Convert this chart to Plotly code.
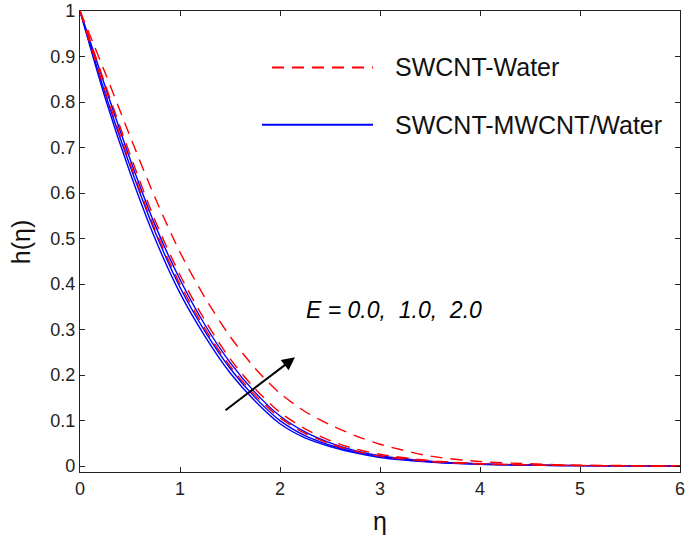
import plotly.graph_objects as go

eta = [0, 0.25, 0.5, 0.75, 1, 1.25, 1.5, 1.75, 2, 2.25, 2.5, 2.75, 3, 3.5, 4, 4.5, 5, 5.5, 6]

# SWCNT-MWCNT/Water (blue, solid) for E = 0.0, 1.0, 2.0
blue_E0 = [1, 0.81, 0.645, 0.50, 0.38, 0.285, 0.205, 0.143, 0.093, 0.062, 0.043, 0.029, 0.019, 0.009, 0.004, 0.002, 0.001, 0.0005, 0]
blue_E1 = [1, 0.82, 0.66, 0.515, 0.393, 0.296, 0.215, 0.151, 0.100, 0.067, 0.046, 0.031, 0.021, 0.0095, 0.0043, 0.002, 0.001, 0.0005, 0]
blue_E2 = [1, 0.835, 0.675, 0.53, 0.41, 0.31, 0.228, 0.162, 0.110, 0.075, 0.051, 0.034, 0.023, 0.011, 0.005, 0.0023, 0.0011, 0.0005, 0]

# SWCNT-Water (red, dashed) for E = 0.0, 1.0, 2.0
red_E0 = [1, 0.825, 0.665, 0.52, 0.40, 0.302, 0.22, 0.156, 0.106, 0.072, 0.049, 0.033, 0.022, 0.01, 0.0047, 0.0022, 0.001, 0.0005, 0]
red_E1 = [1, 0.84, 0.685, 0.54, 0.42, 0.32, 0.236, 0.170, 0.118, 0.082, 0.056, 0.038, 0.026, 0.012, 0.0055, 0.0025, 0.0012, 0.0005, 0]
red_E2 = [1, 0.865, 0.725, 0.59, 0.47, 0.37, 0.285, 0.215, 0.16, 0.12, 0.091, 0.067, 0.048, 0.022, 0.010, 0.005, 0.002, 0.001, 0]

x_ticks = [0, 1, 2, 3, 4, 5, 6]
y_ticks = [0, 0.1, 0.2, 0.3, 0.4, 0.5, 0.6, 0.7, 0.8, 0.9, 1]
y_tick_text = ["0", "0.1", "0.2", "0.3", "0.4", "0.5", "0.6", "0.7", "0.8", "0.9", "1"]

legend_labels = ["SWCNT-Water", "SWCNT-MWCNT/Water"]
annot_text = "E = 0.0,\u00a0 1.0,\u00a0 2.0"

FONT = "Arial, Liberation Sans, sans-serif"
RED = "#ff0000"
BLUE = "#0000ff"
DASH = "12px,8px"

fig = go.Figure()
for ys in (blue_E0, blue_E1, blue_E2):
    fig.add_trace(go.Scatter(x=eta, y=ys, mode="lines", showlegend=False,
                             line=dict(color=BLUE, width=1.4, shape="spline", smoothing=0.8)))
for ys in (red_E0, red_E1, red_E2):
    fig.add_trace(go.Scatter(x=eta, y=ys, mode="lines", showlegend=False,
                             line=dict(color=RED, width=1.4, dash=DASH, shape="spline", smoothing=0.8)))

# manual legend
fig.add_shape(type="line", x0=1.92, x1=2.93, y0=0.876, y1=0.876, xref="x", yref="y",
              line=dict(color=RED, width=2, dash=DASH))
fig.add_shape(type="line", x0=1.82, x1=2.93, y0=0.75, y1=0.75, xref="x", yref="y",
              line=dict(color=BLUE, width=2.2))
fig.add_annotation(x=3.13, y=0.876, text=legend_labels[0], showarrow=False, xanchor="left",
                   yanchor="middle", font=dict(family=FONT, size=25, color="#111"))
fig.add_annotation(x=3.13, y=0.75, text=legend_labels[1], showarrow=False, xanchor="left",
                   yanchor="middle", font=dict(family=FONT, size=25, color="#111"))

# arrow and E label
fig.add_annotation(x=2.15, y=0.239, ax=1.44, ay=0.12, xref="x", yref="y", axref="x", ayref="y",
                   text="", showarrow=True, arrowhead=2, arrowsize=1.3, arrowwidth=2, arrowcolor="black")
fig.add_annotation(x=2.24, y=0.344, text="<i>" + annot_text + "</i>", showarrow=False, xanchor="left",
                   yanchor="middle", font=dict(family=FONT, size=23, color="black"))

# axis titles
fig.add_annotation(x=-0.097, y=0.498, xref="paper", yref="paper", text="h(\u03b7)", textangle=-90,
                   xanchor="center", yanchor="middle",
                   showarrow=False, font=dict(family=FONT, size=25, color="#111"))
fig.add_annotation(x=0.5, y=-0.107, xref="paper", yref="paper", text="\u03b7",
                   xanchor="center", yanchor="middle",
                   showarrow=False, font=dict(family=FONT, size=25, color="#111"))

axis_common = dict(showline=True, linecolor="#222", linewidth=1.3, mirror="ticks", ticks="inside",
                   ticklen=5, tickcolor="#222", showgrid=False, zeroline=False,
                   ticklabeloverflow="allow",
                   tickfont=dict(family=FONT, size=18, color="#222"))
fig.update_xaxes(range=[0, 6], tickvals=x_ticks, **axis_common)
fig.update_yaxes(range=[-0.013, 1.0], tickvals=y_ticks, ticktext=y_tick_text, **axis_common)

fig.update_layout(width=685, height=542, margin=dict(l=80, r=5, t=11, b=70, autoexpand=False),
                  paper_bgcolor="white", plot_bgcolor="white", showlegend=False,
                  font=dict(family=FONT))
fig.write_html("out.html", config={"displayModeBar": False},
               post_script="document.body.style.margin='0';document.body.style.overflow='hidden';")
